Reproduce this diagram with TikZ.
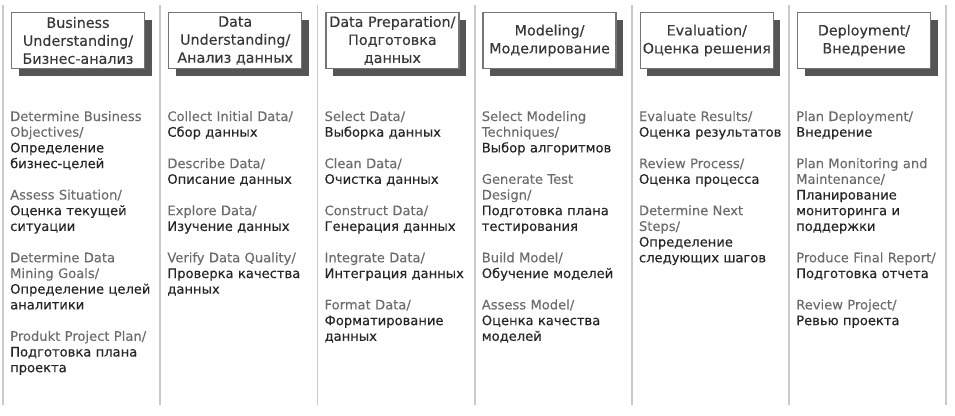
\documentclass[tikz,border=0pt]{standalone}
\usepackage{fontspec}
\setmainfont{DejaVu Sans}[FakeBold=0.15]
\newfontfamily\rufont{DejaVu Sans}[FakeBold=0.35]
\usetikzlibrary{shadows}
\definecolor{rulegray}{HTML}{CACACA}
\definecolor{boxgray}{HTML}{757575}
\definecolor{shadowgray}{HTML}{555555}
\definecolor{headtext}{HTML}{383838}
\definecolor{engtext}{HTML}{6C6C6C}
\definecolor{rutext}{HTML}{262626}
\newcommand\en[1]{{\color{engtext}#1}}
\newcommand\ru[1]{{\rufont\color{rutext}#1}}
\newcommand\itemgap{\\[15.7pt]}
\begin{document}
\begin{tikzpicture}[x=1pt,y=-1pt,
  phase/.style={draw=boxgray, line width=1.5pt, fill=white,
    minimum width=133pt, minimum height=56pt, inner sep=1pt,
    align=center, text=headtext, font=\fontsize{14.3}{18}\selectfont,
    drop shadow={shadow xshift=7pt, shadow yshift=-7pt,
      fill=shadowgray, opacity=1}},
  tasks/.style={anchor=base west, inner sep=0pt, text width=152pt,
    align=left, font=\fontsize{13.1}{15.7}\selectfont},
  separator/.style={draw=rulegray, line width=1.8pt}
]
\useasboundingbox (0,0) rectangle (955,415);

% column separators
\foreach \i in {0,...,6}
  \draw[separator] (3+157.2*\i,5) -- (3+157.2*\i,405);

% phase headers
\node[phase] (p1) at (78,40.5)    {Business\\Understanding/\\Бизнес-анализ};
\node[phase] (p2) at (235.2,40.5) {Data\\Understanding/\\Анализ данных};
\node[phase] (p3) at (392.4,40.5) {Data Preparation/\\Подготовка\\данных};
\node[phase] (p4) at (549.6,40.5) {Modeling/\\Моделирование};
\node[phase] (p5) at (706.8,40.5) {Evaluation/\\Оценка решения};
\node[phase] (p6) at (864,40.5)   {Deployment/\\Внедрение};

% tasks of each phase
\node[tasks] (t1) at (10,121) {%
  \en{Determine Business\\Objectives/}\\\ru{Определение\\бизнес-целей}\itemgap
  \en{Assess Situation/}\\\ru{Оценка текущей\\ситуации}\itemgap
  \en{Determine Data\\Mining Goals/}\\\ru{Определение целей\\аналитики}\itemgap
  \en{Produkt Project Plan/}\\\ru{Подготовка плана\\проекта}};

\node[tasks] (t2) at (167.2,121) {%
  \en{Collect Initial Data/}\\\ru{Сбор данных}\itemgap
  \en{Describe Data/}\\\ru{Описание данных}\itemgap
  \en{Explore Data/}\\\ru{Изучение данных}\itemgap
  \en{Verify Data Quality/}\\\ru{Проверка качества\\данных}};

\node[tasks] (t3) at (324.4,121) {%
  \en{Select Data/}\\\ru{Выборка данных}\itemgap
  \en{Clean Data/}\\\ru{Очистка данных}\itemgap
  \en{Construct Data/}\\\ru{Генерация данных}\itemgap
  \en{Integrate Data/}\\\ru{Интеграция данных}\itemgap
  \en{Format Data/}\\\ru{Форматирование\\данных}};

\node[tasks] (t4) at (481.6,121) {%
  \en{Select Modeling\\Techniques/}\\\ru{Выбор алгоритмов}\itemgap
  \en{Generate Test\\Design/}\\\ru{Подготовка плана\\тестирования}\itemgap
  \en{Build Model/}\\\ru{Обучение моделей}\itemgap
  \en{Assess Model/}\\\ru{Оценка качества\\моделей}};

\node[tasks] (t5) at (638.8,121) {%
  \en{Evaluate Results/}\\\ru{Оценка результатов}\itemgap
  \en{Review Process/}\\\ru{Оценка процесса}\itemgap
  \en{Determine Next\\Steps/}\\\ru{Определение\\следующих шагов}};

\node[tasks] (t6) at (796,121) {%
  \en{Plan Deployment/}\\\ru{Внедрение}\itemgap
  \en{Plan Monitoring and\\Maintenance/}\\\ru{Планирование\\мониторинга и\\поддержки}\itemgap
  \en{Produce Final Report/}\\\ru{Подготовка отчета}\itemgap
  \en{Review Project/}\\\ru{Ревью проекта}};
\end{tikzpicture}
\end{document}
